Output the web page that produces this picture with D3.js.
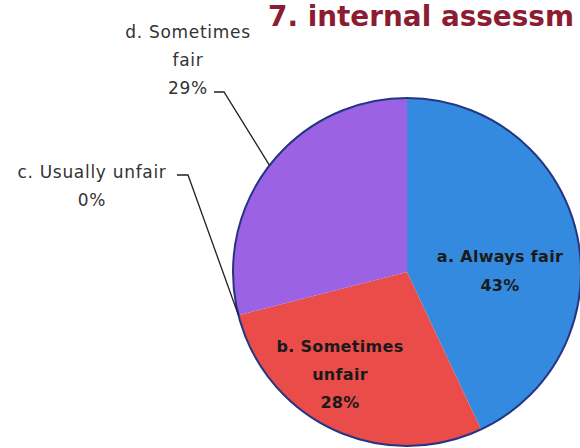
<!DOCTYPE html>
<html>
<head>
<meta charset="utf-8">
<script src="https://cdn.jsdelivr.net/npm/d3@7"></script>
<style>
  body { margin: 0; background: #fff; overflow: hidden; }
  text { font-family: "DejaVu Sans", sans-serif; }
</style>
</head>
<body>
<div id="chart"></div>
<script>
// data
var categories = ["a. Always fair", "b. Sometimes unfair", "c. Usually unfair", "d. Sometimes fair"];
var percents = [43, 28, 0, 29];
var labelLines = [
    ["a. Always fair", "43%"],
    ["b. Sometimes", "unfair", "28%"],
    ["c. Usually unfair", "0%"],
    ["d. Sometimes", "fair", "29%"]
];
var colors = ["#348adf", "#e94c49", "#e0e0e0", "#9b62e3"];
// the heading is cut by the right edge in the original
var title = "7. internal assessm";

var width = 580,
    height = 448;

var cx = 407, cy = 272, radius = 174;

var svg = d3.select("#chart")
    .append("svg")
    .attr("width", width)
    .attr("height", height);

var titleText = svg.append("text")
    .attr("x", 268)
    .attr("y", 26)
    .attr("font-family", "Lato, sans-serif")
    .attr("font-size", 32)
    .attr("font-weight", "bold")
    .attr("fill", "#8c1c32")
    .text(title);

// stretch the heading out to the right edge with letter spacing
var titleW = titleText.node().getComputedTextLength();
var gap = (306 - titleW) / (title.length - 1);
if (gap > 0) {
    titleText.attr("letter-spacing", gap);
} else {
    titleText.attr("font-size", 32 * 306 / titleW);
}

var pie = d3.pie().sort(null).value((d) => d);
var arcs = pie(percents);

var arc = d3.arc().innerRadius(0).outerRadius(radius);

var g = svg.append("g")
    .attr("transform", `translate(${cx},${cy})`);

g.selectAll("path")
    .data(arcs)
    .enter()
    .append("path")
    .attr("d", arc)
    .attr("fill", (d, i) => colors[i])
    .attr("stroke", "none");

// dark rim round the pie
g.append("circle")
    .attr("r", radius)
    .attr("fill", "none")
    .attr("stroke", "#233684")
    .attr("stroke-width", 2);

// label placement: inside labels for a, b; outside with leaders for c, d
var labelPos = [
    { x: 500, y: 262, lh: 29 },
    { x: 340, y: 352, lh: 28 },
    { x: 92,  y: 178, lh: 28 },
    { x: 188, y: 38,  lh: 28 }
];

var labels = svg.selectAll(".label")
    .data(labelLines)
    .enter()
    .append("text")
    .attr("class", "label")
    .attr("text-anchor", "middle")
    .attr("font-size", (d, i) => i < 2 ? 16 : 17)
    .attr("letter-spacing", (d, i) => i < 2 ? 0.3 : 0.7)
    .attr("fill", (d, i) => i < 2 ? "#1a1a1a" : "#333")
    .attr("font-weight", (d, i) => i < 2 ? "bold" : "normal");

labels.each(function (lines, i) {
    var t = d3.select(this);
    lines.forEach(function (s, k) {
        t.append("tspan")
            .attr("x", labelPos[i].x)
            .attr("y", labelPos[i].y + k * labelPos[i].lh)
            .text(s);
    });
});

// leader lines from the outside labels to the pie rim
function rimPoint(a) {
    return [cx + Math.sin(a) * radius, cy - Math.cos(a) * radius];
}

var leaders = [
    { slice: 2, from: [[177, 175], [188, 175]] },
    { slice: 3, from: [[214, 92], [224, 92]] }
];

leaders.forEach(function (l) {
    var a = arcs[l.slice];
    var mid = (a.startAngle + a.endAngle) / 2;
    var pts = l.from.concat([rimPoint(mid)]);
    svg.append("path")
        .attr("d", d3.line()(pts))
        .attr("fill", "none")
        .attr("stroke", "#222")
        .attr("stroke-width", 1.3);
});
</script>
</body>
</html>
